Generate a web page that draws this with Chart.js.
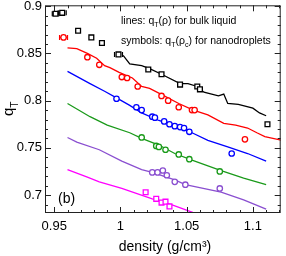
<!DOCTYPE html>
<html>
<head>
<meta charset="utf-8">
<script src="https://cdn.jsdelivr.net/npm/chart.js@4.4.1/dist/chart.umd.min.js"></script>
<style>
  body { margin: 0; background: #fff; }
</style>
</head>
<body>
<canvas id="chart" width="286" height="256"></canvas>
<script>
// bulk liquid curves q_T(rho)
const blackLineX = [1.002, 1.007, 1.016, 1.022, 1.031, 1.045, 1.051, 1.058, 1.063, 1.074, 1.078, 1.081, 1.089, 1.100, 1.105, 1.110];
const blackLineY = [0.848, 0.839, 0.837, 0.834, 0.828, 0.818, 0.818, 0.815, 0.809, 0.805, 0.807, 0.797, 0.796, 0.792, 0.787, 0.784];
const redLineX = [0.960, 0.967, 0.975, 0.982, 0.988, 0.992, 0.999, 1.009, 1.016, 1.022, 1.033, 1.044, 1.055, 1.066, 1.078, 1.087, 1.096, 1.103, 1.109, 1.122];
const redLineY = [0.856, 0.855, 0.850, 0.845, 0.837, 0.835, 0.830, 0.824, 0.815, 0.813, 0.805, 0.797, 0.790, 0.785, 0.776, 0.774, 0.771, 0.766, 0.762, 0.758];
const blueLineX = [0.960, 0.977, 0.988, 0.997, 1.007, 1.016, 1.029, 1.040, 1.054, 1.066, 1.081, 1.096, 1.110];
const blueLineY = [0.831, 0.818, 0.810, 0.803, 0.795, 0.787, 0.779, 0.774, 0.766, 0.758, 0.751, 0.744, 0.736];
const greenLineX = [0.960, 0.977, 0.990, 1.007, 1.016, 1.029, 1.041, 1.054, 1.076, 1.093, 1.110];
const greenLineY = [0.797, 0.783, 0.774, 0.766, 0.760, 0.753, 0.744, 0.737, 0.726, 0.718, 0.711];
const purpleLineX = [0.960, 0.967, 0.984, 1.001, 1.016, 1.024, 1.041, 1.049, 1.076, 1.093, 1.110];
const purpleLineY = [0.761, 0.756, 0.748, 0.736, 0.727, 0.724, 0.716, 0.711, 0.703, 0.695, 0.685];
const magentaLineX = [0.960, 0.975, 0.984, 1.001, 1.024, 1.040, 1.054, 1.062];
const magentaLineY = [0.727, 0.719, 0.714, 0.707, 0.696, 0.689, 0.682, 0.677];

// nanodroplet symbols q_T(rho_c), with horizontal error (density)
const blackSymX = [0.951, 0.956, 0.968, 0.978, 0.986, 0.9985, 1.021, 1.031, 1.045, 1.058, 1.060, 1.111];
const blackSymY = [0.892, 0.893, 0.874, 0.867, 0.861, 0.849, 0.833, 0.828, 0.817, 0.815, 0.812, 0.775];
const blackErr  = [0.0025, 0.003, 0, 0, 0, 0.003, 0, 0, 0, 0, 0, 0];
const redSymX = [0.957, 0.975, 0.984, 1.001, 1.005, 1.013, 1.031, 1.036, 1.044, 1.054, 1.056, 1.094];
const redSymY = [0.867, 0.846, 0.838, 0.825, 0.824, 0.815, 0.805, 0.800, 0.793, 0.790, 0.790, 0.759];
const redErr  = [0.003, 0, 0, 0, 0, 0, 0, 0, 0, 0, 0, 0];
const blueSymX = [0.997, 1.012, 1.016, 1.024, 1.026, 1.033, 1.037, 1.041, 1.045, 1.048, 1.052, 1.084];
const blueSymY = [0.802, 0.793, 0.790, 0.783, 0.782, 0.778, 0.775, 0.773, 0.772, 0.771, 0.767, 0.744];
const greenSymX = [1.016, 1.027, 1.029, 1.034, 1.044, 1.052, 1.075];
const greenSymY = [0.761, 0.752, 0.751, 0.748, 0.743, 0.738, 0.725];
const purpleSymX = [1.024, 1.028, 1.032, 1.035, 1.041, 1.049, 1.075];
const purpleSymY = [0.724, 0.724, 0.726, 0.721, 0.714, 0.711, 0.707];
const magentaSymX = [1.019, 1.027, 1.031, 1.034, 1.037];
const magentaSymY = [0.703, 0.696, 0.692, 0.693, 0.688];

const xTicks = [0.95, 1, 1.05, 1.1];
const yTicks = [0.7, 0.75, 0.8, 0.85, 0.9];

const FONT = '"Liberation Sans", Arial, sans-serif';
const colors = {
    black: "#000000",
    red: "#ff0000",
    blue: "#0000ff",
    green: "#1a9a1a",
    purple: "#8a4fd0",
    magenta: "#ff00ff"
};

function pts(xs, ys) {
    return xs.map((x, i) => ({ x: x, y: ys[i] }));
}

function lineSet(xs, ys, color) {
    return {
        data: pts(xs, ys),
        showLine: true,
        borderColor: color,
        borderWidth: 1.3,
        pointRadius: 0,
        tension: 0
    };
}

function symSet(xs, ys, color, style, err) {
    return {
        data: pts(xs, ys),
        showLine: false,
        borderColor: color,
        backgroundColor: "#ffffff",
        pointStyle: style,
        pointRadius: style === "rect" ? 3.4 : 2.7,
        pointBorderWidth: 1.3,
        xErr: err || null
    };
}

// draws text pieces, some as subscripts
function drawRich(ctx, parts, x, y, size) {
    let cx = x;
    parts.forEach(p => {
        const s = p.sub ? size * 0.68 : size;
        ctx.font = s + "px " + FONT;
        ctx.fillText(p.t, cx, p.sub ? y + size * 0.3 : y);
        cx += ctx.measureText(p.t).width;
    });
}

const framePlugin = {
    id: "frame",
    afterDatasetsDraw(chart) {
        const { ctx, scales: { x } } = chart;
        // horizontal error bars on symbols
        chart.data.datasets.forEach((ds, di) => {
            if (!ds.xErr) return;
            const meta = chart.getDatasetMeta(di);
            ctx.save();
            ctx.strokeStyle = ds.borderColor;
            ctx.lineWidth = 1.2;
            ds.data.forEach((p, i) => {
                const e = ds.xErr[i];
                if (!e) return;
                const el = meta.data[i];
                const r = ds.pointRadius;
                const x0 = x.getPixelForValue(p.x - e);
                const x1 = x.getPixelForValue(p.x + e);
                ctx.beginPath();
                ctx.moveTo(x0, el.y); ctx.lineTo(el.x - r, el.y);
                ctx.moveTo(el.x + r, el.y); ctx.lineTo(x1, el.y);
                ctx.moveTo(x0, el.y - 2.5); ctx.lineTo(x0, el.y + 2.5);
                ctx.moveTo(x1, el.y - 2.5); ctx.lineTo(x1, el.y + 2.5);
                ctx.stroke();
            });
            ctx.restore();
        });
    },
    afterDraw(chart) {
        const { ctx, chartArea: a, scales: { x, y } } = chart;
        ctx.save();
        ctx.strokeStyle = "#222";
        ctx.lineWidth = 1;
        ctx.strokeRect(a.left + 0.5, a.top + 0.5, a.right - a.left - 1, a.bottom - a.top - 1);

        // inward ticks on all four sides
        ctx.beginPath();
        for (let i = 94; i <= 112; i++) {
            const v = i / 100;
            const px = Math.round(x.getPixelForValue(v)) + 0.5;
            if (px < a.left || px > a.right) continue;
            const len = (i % 5 === 0) ? 6 : 3;
            ctx.moveTo(px, a.bottom); ctx.lineTo(px, a.bottom - len);
            ctx.moveTo(px, a.top); ctx.lineTo(px, a.top + len);
        }
        for (let i = 68; i <= 90; i++) {
            const v = i / 100;
            const py = Math.round(y.getPixelForValue(v)) + 0.5;
            if (py < a.top || py > a.bottom) continue;
            const len = (i % 5 === 0) ? 6 : 3;
            ctx.moveTo(a.left, py); ctx.lineTo(a.left + len, py);
            ctx.moveTo(a.right, py); ctx.lineTo(a.right - len, py);
        }
        ctx.stroke();

        ctx.fillStyle = "#000";
        ctx.textBaseline = "alphabetic";

        // x title
        ctx.textAlign = "center";
        ctx.font = "14px " + FONT;
        ctx.fillText("density (g/cm³)", 165, 251);

        // y title q_T, rotated
        ctx.save();
        ctx.translate(13, 108);
        ctx.rotate(-Math.PI / 2);
        ctx.textAlign = "left";
        drawRich(ctx, [{ t: "q" }, { t: "T", sub: true }], -8, 0, 15);
        ctx.restore();

        // annotation text
        ctx.textAlign = "left";
        drawRich(ctx, [{ t: "lines: q" }, { t: "T", sub: true }, { t: "(ρ) for bulk liquid" }], 121, 24, 10.5);
        drawRich(ctx, [{ t: "symbols: q" }, { t: "T", sub: true }, { t: "(ρ" }, { t: "c", sub: true }, { t: ") for nanodroplets" }], 121, 44, 10.5);

        ctx.font = "14px " + FONT;
        ctx.fillText("(b)", 58, 203);
        ctx.restore();
    }
};

new Chart(document.getElementById("chart"), {
    type: "scatter",
    data: {
        datasets: [
            symSet(blackSymX, blackSymY, colors.black, "rect", blackErr),
            symSet(redSymX, redSymY, colors.red, "circle", redErr),
            symSet(blueSymX, blueSymY, colors.blue, "circle"),
            symSet(greenSymX, greenSymY, colors.green, "circle"),
            symSet(purpleSymX, purpleSymY, colors.purple, "circle"),
            symSet(magentaSymX, magentaSymY, colors.magenta, "rect"),
            lineSet(blackLineX, blackLineY, colors.black),
            lineSet(redLineX, redLineY, colors.red),
            lineSet(blueLineX, blueLineY, colors.blue),
            lineSet(greenLineX, greenLineY, colors.green),
            lineSet(purpleLineX, purpleLineY, colors.purple),
            lineSet(magentaLineX, magentaLineY, colors.magenta)
        ]
    },
    options: {
        responsive: false,
        animation: false,
        layout: { padding: { left: 0, top: 5, right: 3, bottom: 0 } },
        plugins: {
            legend: { display: false },
            tooltip: { enabled: false }
        },
        scales: {
            x: {
                type: "linear",
                min: 0.943,
                max: 1.121,
                grid: { display: false, drawTicks: false },
                border: { display: false },
                afterBuildTicks: s => { s.ticks = xTicks.map(v => ({ value: v })); },
                afterFit: s => { s.height = 43; s.paddingLeft = 0; s.paddingRight = 0; },
                ticks: {
                    color: "#000",
                    padding: 6,
                    maxRotation: 0,
                    font: { family: FONT, size: 13 },
                    callback: v => String(+v.toFixed(2))
                }
            },
            y: {
                type: "linear",
                min: 0.681,
                max: 0.901,
                grid: { display: false, drawTicks: false },
                border: { display: false },
                afterBuildTicks: s => { s.ticks = yTicks.map(v => ({ value: v })); },
                afterFit: s => { s.width = 45; s.paddingTop = 0; s.paddingBottom = 0; },
                ticks: {
                    color: "#000",
                    padding: 3,
                    font: { family: FONT, size: 13 },
                    callback: v => String(+v.toFixed(2))
                }
            }
        }
    },
    plugins: [framePlugin]
});
</script>
</body>
</html>
